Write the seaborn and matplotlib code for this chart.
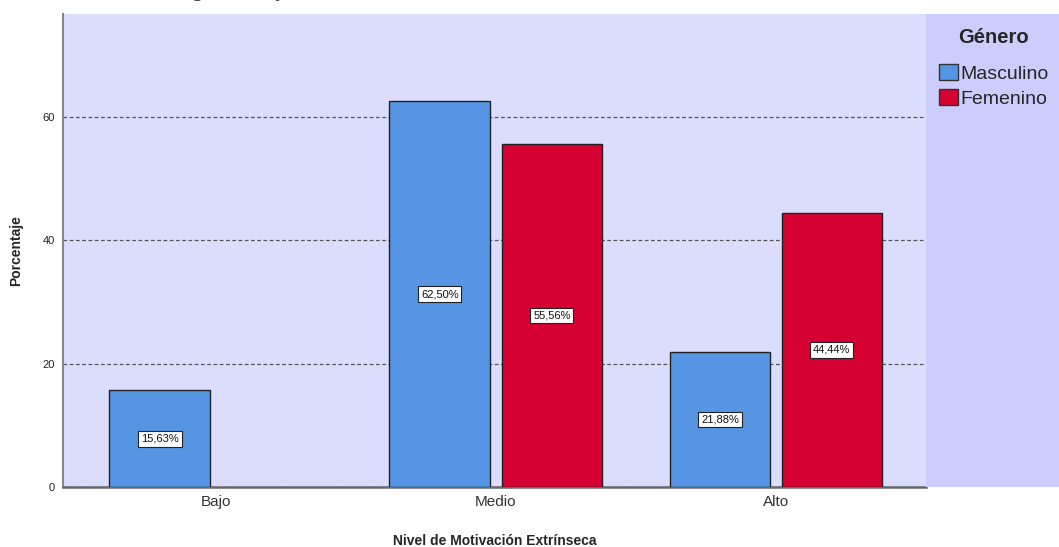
import pandas as pd
import matplotlib
matplotlib.use("Agg")
import matplotlib.pyplot as plt
from matplotlib.patches import Rectangle, Patch
import seaborn as sns

# Datos
niveles = ["Bajo", "Medio", "Alto"]
masculino = [15.63, 62.50, 21.88]
femenino = [None, 55.56, 44.44]
generos = ["Masculino", "Femenino"]
colores = {"Masculino": "#5595E3", "Femenino": "#D60032"}

filas = []
for i, nivel in enumerate(niveles):
    filas.append({"Nivel": nivel, "Género": "Masculino", "Porcentaje": masculino[i]})
    filas.append({"Nivel": nivel, "Género": "Femenino", "Porcentaje": femenino[i]})
df = pd.DataFrame(filas)

sns.set_theme(style="white")
plt.rcParams["font.family"] = ["Liberation Sans", "DejaVu Sans"]

W, H = 1059, 547
fig = plt.figure(figsize=(W / 100, H / 100), dpi=100)
fig.patch.set_facecolor("white")

izq, der, arriba, abajo = 63, 926, 14, 487
ax = fig.add_axes([izq / W, (H - abajo) / H, (der - izq) / W, (abajo - arriba) / H])
ax.set_facecolor("#DCDCFD")

# Panel de la leyenda
fig.patches.append(Rectangle((der / W, (H - abajo) / H), (W - der) / W, (abajo - arriba) / H,
                             transform=fig.transFigure, facecolor="#CCCCFD",
                             edgecolor="none", zorder=0))

sns.barplot(data=df, x="Nivel", y="Porcentaje", hue="Género", order=niveles,
            hue_order=generos, palette=colores, saturation=1, width=0.8, gap=0.1,
            edgecolor="#222222", linewidth=1.0, legend=False, ax=ax, zorder=3)

# Etiquetas de porcentaje en medio de cada barra
for cont in ax.containers:
    for barra in cont:
        h = barra.get_height()
        if h is None or pd.isna(h) or h == 0:
            continue
        texto = f"{h:.2f}%".replace(".", ",")
        ax.text(barra.get_x() + barra.get_width() / 2, h / 2, texto,
                ha="center", va="center", fontsize=8, color="#111111", zorder=5,
                bbox=dict(boxstyle="square,pad=0.25", facecolor="white",
                          edgecolor="#222222", linewidth=0.8))

ax.set_xlim(-0.546, 2.536)
ax.set_ylim(0, 76.6)
ax.set_yticks([0, 20, 40, 60])
ax.yaxis.grid(True, linestyle=(0, (3, 2)), color="#555555", linewidth=0.9)
ax.set_axisbelow(True)
ax.tick_params(axis="y", labelsize=8, length=0, pad=6, colors="#222222")
ax.tick_params(axis="x", labelsize=11, length=0, pad=6, colors="#333333")

for lado in ["top", "right"]:
    ax.spines[lado].set_visible(False)
ax.spines["left"].set_color("#888888")
ax.spines["left"].set_linewidth(1.5)
ax.spines["bottom"].set_color("#666666")
ax.spines["bottom"].set_linewidth(1.8)

ax.set_ylabel("Porcentaje", fontsize=10, fontweight="bold", labelpad=14)
ax.set_xlabel("Nivel de Motivación Extrínseca", fontsize=10, fontweight="bold", labelpad=18)

manejadores = [Patch(facecolor=colores[g], edgecolor="#333333", label=g) for g in generos]
ley = fig.legend(handles=manejadores, title="Género", loc="upper left",
                 bbox_to_anchor=(939 / W, 1 - 28 / H), frameon=False,
                 fontsize=14, title_fontproperties={"weight": "bold", "size": 14.5},
                 handlelength=1.0, handleheight=0.95, handletextpad=0.1,
                 labelspacing=0.3, borderaxespad=0, borderpad=0)
ley._legend_box.align = "center"
ley._legend_box.sep = 12

# Título cortado en la parte superior de la imagen original
fig.text(63 / W, 1.0 + 8 / H, "Efectos de la carga horaria y la motivación extrínseca",
         fontsize=14, family=["Liberation Serif", "DejaVu Serif"], va="center",
         ha="left", color="#222222")

fig.savefig("out.png", dpi=100)
